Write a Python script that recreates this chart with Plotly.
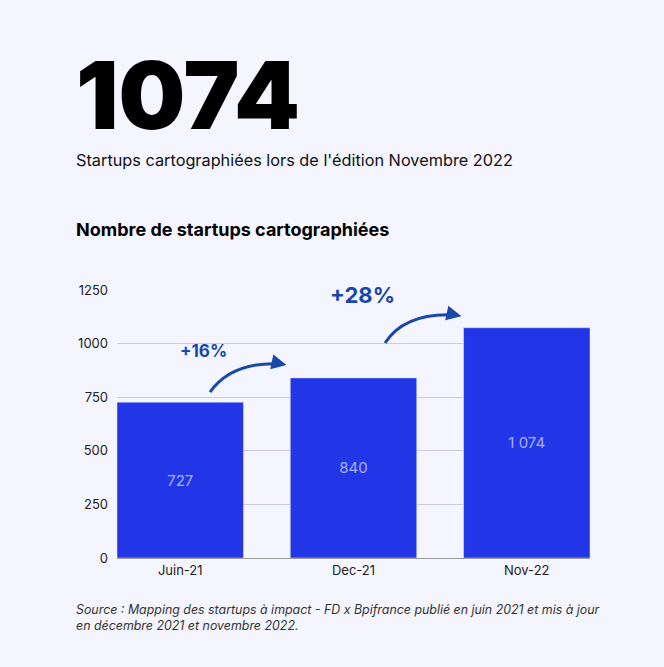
import plotly.graph_objects as go

categories = ["Juin-21", "Dec-21", "Nov-22"]
values = [727, 840, 1074]
value_labels = ["727", "840", "1 074"]
growth_labels = ["+16%", "+28%"]

BG = "#F4F5FE"
BAR = "#2236E8"
BLUE = "#1848A8"

fig = go.Figure(go.Bar(
    x=list(range(len(categories))), y=values, text=value_labels,
    textposition="inside", insidetextanchor="middle",
    textfont=dict(color="#A9B0F2", size=15, family="Inter"),
    marker=dict(color=BAR), width=0.73, hoverinfo="skip"))

fig.update_layout(
    width=664, height=667, paper_bgcolor=BG, plot_bgcolor=BG,
    margin=dict(l=117, r=74, t=290, b=109), showlegend=False,
    font=dict(family="Inter", color="#222"),
    xaxis=dict(range=[-0.365, 2.365], tickvals=[0, 1, 2], ticktext=categories,
               showgrid=False, tickfont=dict(size=13), zeroline=False,
               showline=True, linecolor="#999", linewidth=1),
    yaxis=dict(range=[0, 1250], tickvals=[0, 250, 500, 750, 1000, 1250],
               gridcolor="#C9CCDD", zeroline=False, tickfont=dict(size=13),
               ticks="", ticklabelstandoff=8),
)

arrows = [((0.172, 774), (0.30, 920), (0.593, 905)),
          ((1.182, 1003), (1.30, 1150), (1.603, 1133))]
for (x0, y0), (cx, cy), (x1, y1) in arrows:
    fig.add_shape(type="path", xref="x", yref="y",
                  path=f"M {x0},{y0} Q {cx},{cy} {x1},{y1}",
                  line=dict(color=BLUE, width=3))
    fig.add_annotation(x=x1 + 0.02, y=y1 - 5, ax=-14, ay=-3, showarrow=True,
                       arrowhead=2, arrowsize=1, arrowwidth=3, arrowcolor=BLUE, text="")

fig.add_annotation(x=0.137, y=965, text=f"<b>{growth_labels[0]}</b>", showarrow=False,
                   font=dict(size=17, color=BLUE))
fig.add_annotation(x=1.05, y=1226, text=f"<b>{growth_labels[1]}</b>", showarrow=False,
                   font=dict(size=22, color=BLUE))

fig.add_annotation(xref="paper", yref="paper", x=-0.09, y=1.0, xanchor="left", yanchor="middle",
                   text="1074", showarrow=False, yshift=195,
                   font=dict(size=94, color="#000", family="Inter", weight=900))
fig.add_annotation(xref="paper", yref="paper", x=-0.09, y=1.0, xanchor="left", yanchor="middle",
                   text="Startups cartographiées lors de l'édition Novembre 2022", showarrow=False,
                   yshift=130, font=dict(size=16.3, color="#111"))
fig.add_annotation(xref="paper", yref="paper", x=-0.09, y=1.0, xanchor="left", yanchor="middle",
                   text="<b>Nombre de startups cartographiées</b>", showarrow=False,
                   yshift=61, font=dict(size=18, color="#000"))
fig.add_annotation(xref="paper", yref="paper", x=-0.09, y=0, xanchor="left", yanchor="top",
                   text="<i>Source : Mapping des startups à impact - FD x Bpifrance publié en juin 2021 et mis à jour<br>en décembre 2021 et novembre 2022.</i>",
                   showarrow=False, align="left", yshift=-42, font=dict(size=12.4, color="#333"))

fig.write_html("out.html", config={"displayModeBar": False},
               post_script="document.body.style.margin='0';document.body.style.background='#F4F5FE';")
